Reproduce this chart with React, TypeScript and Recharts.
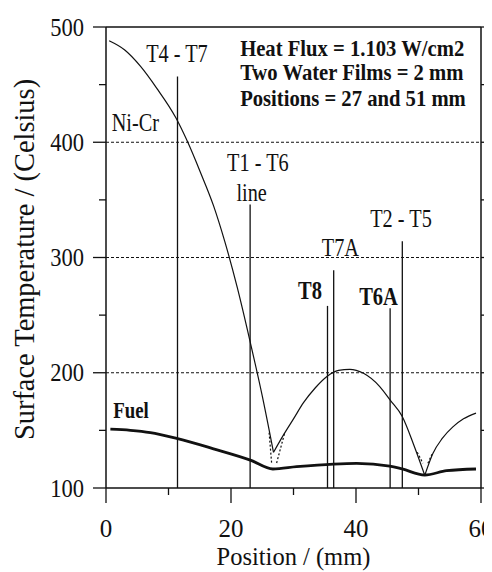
import React from 'react';
import { ComposedChart, Line, XAxis, YAxis, ReferenceLine, ReferenceDot } from 'recharts';

// ---------- data (Position mm, Temperature °C) ----------
const niCrLeft: number[][] = [
  [0.5, 488], [3, 480], [5.5, 466], [8.1, 447], [11.2, 421], [13, 401], [15.1, 374],
  [17.2, 345], [19, 314], [21, 274], [23.1, 226], [25, 180], [26.8, 131],
];
const niCrMid: number[][] = [
  [26.8, 131], [28.5, 147], [30, 160], [31.6, 174], [33.5, 187], [35.4, 197], [37.2, 202],
  [39, 203], [41.2, 199.5], [43.8, 188], [45.5, 176], [47.4, 162], [49.2, 138], [51, 111],
];
const niCrRight: number[][] = [
  [51, 111], [52.3, 130], [53.8, 143], [55.5, 153], [57.2, 160], [59.2, 165],
];
const fuel: number[][] = [
  [0.7, 151], [3.9, 150], [7.1, 148], [11.3, 143], [17.2, 134], [23.2, 124], [26.7, 116.5],
  [30.5, 118.5], [36.4, 120.8], [40.1, 121.4], [45.4, 119], [47.4, 116.5], [51, 111.3],
  [54.5, 115], [59.2, 116.5],
];
const dottedStrokes: number[][][] = [
  [[26.1, 148], [26.5, 121.7]],
  [[27.3, 121.7], [28.6, 148]],
  [[49.8, 131], [50.7, 121.5]],
  [[51.5, 121.5], [52.3, 131]],
];
const probeNames = ['T4 - T7', 'T1 - T6', 'T8', 'T7A', 'T6A', 'T2 - T5'];
const probePositions = [11.44, 23.06, 35.44, 36.43, 45.46, 47.41];
const probeTops = [457, 346, 258, 289, 256, 314];

const xTicks = [0, 10, 20, 30, 40, 50, 60];
const yTicks = [100, 150, 200, 250, 300, 350, 400, 450, 500];
const gridValues = [200, 300, 400];

const infoLines = ['Heat Flux = 1.103 W/cm2', 'Two Water Films = 2 mm', 'Positions = 27 and 51 mm'];
const infoX = 21.46;
const infoY = [481.5, 460.3, 438.1];

type Note = { text: string; x: number; y: number; bold?: boolean };
const notes: Note[] = [
  { text: 'T4 - T7', x: 11.35, y: 477 },
  { text: 'Ni-Cr', x: 4.7, y: 417.6 },
  { text: 'T1 - T6', x: 24.3, y: 383 },
  { text: 'line', x: 23.3, y: 357 },
  { text: 'T7A', x: 37.5, y: 309.4 },
  { text: 'T2 - T5', x: 47.2, y: 334 },
  { text: 'T8', x: 32.65, y: 271.8, bold: true },
  { text: 'T6A', x: 43.6, y: 266, bold: true },
  { text: 'Fuel', x: 4.0, y: 167.7, bold: true },
];

// ---------- styling ----------
const FONT = '"Liberation Serif", "Times New Roman", serif';
const INK = '#111';

const toPts = (a: number[][]) => a.map(([x, y]) => ({ x, y }));

const XTick = (props: any) => {
  const { x, y, payload } = props;
  const v = payload.value;
  const major = v % 20 === 0;
  return (
    <g>
      <line x1={x} x2={x} y1={y} y2={y + (major ? 15 : 7)} stroke={INK} strokeWidth={1.3} />
      {major && (
        <text x={x} y={y + 49} textAnchor="middle" fontSize={25} fontFamily={FONT} fill={INK}>
          {v}
        </text>
      )}
    </g>
  );
};

const YTickLeft = (props: any) => {
  const { x, y, payload } = props;
  const v = payload.value;
  const major = v % 100 === 0;
  return (
    <g>
      <line x1={x - (major ? 13 : 7)} x2={x} y1={y} y2={y} stroke={INK} strokeWidth={1.3} />
      {major && (
        <text
          transform={`translate(${x - 22},${y + 8.5}) scale(0.9,1)`}
          textAnchor="end"
          fontSize={25}
          fontFamily={FONT}
          fill={INK}
        >
          {v}
        </text>
      )}
    </g>
  );
};

const YTickRight = (props: any) => {
  const { x, y, payload } = props;
  const v = payload.value;
  const major = v % 100 === 0;
  return <line x1={x} x2={x + (major ? 8 : 5)} y1={y} y2={y} stroke={INK} strokeWidth={1.3} />;
};

const noteLabel = (text: string, bold: boolean, anchor: 'middle' | 'start', size: number, sx: number) =>
  (props: any) => {
    const vb = props.viewBox || {};
    const cx = (vb.x ?? 0) + (vb.width ?? 0) / 2;
    const cy = (vb.y ?? 0) + (vb.height ?? 0) / 2;
    return (
      <text
        transform={`translate(${cx},${cy + size * 0.34}) scale(${sx},1)`}
        textAnchor={anchor}
        fontSize={size}
        fontWeight={bold ? 700 : 400}
        fontFamily={FONT}
        fill={INK}
      >
        {text}
      </text>
    );
  };

const yTitle = (props: any) => {
  const vb = props.viewBox || {};
  const cx = (vb.x ?? 0) + 26;
  const cy = (vb.y ?? 0) + (vb.height ?? 0) / 2 + 2;
  return (
    <text
      transform={`translate(${cx},${cy}) rotate(-90) scale(0.98,1)`}
      textAnchor="middle"
      fontSize={29}
      fontFamily={FONT}
      fill={INK}
    >
      Surface Temperature / (Celsius)
    </text>
  );
};

const xTitle = (props: any) => {
  const vb = props.viewBox || {};
  const cx = (vb.x ?? 0) + (vb.width ?? 0) / 2;
  const cy = (vb.y ?? 0) + 77;
  return (
    <text x={cx} y={cy} textAnchor="middle" fontSize={24.5} fontFamily={FONT} fill={INK}>
      Position / (mm)
    </text>
  );
};

export default function App() {
  return (
    <ComposedChart width={484} height={564} margin={{ top: 19, right: 0, bottom: 0, left: 0 }}>
      <XAxis
        dataKey="x"
        type="number"
        domain={[0, 60]}
        ticks={xTicks}
        interval={0}
        height={84}
        tickSize={0}
        tickMargin={0}
        tickLine={false}
        axisLine={{ stroke: INK, strokeWidth: 1.5 }}
        tick={(p: any) => <XTick {...p} />}
        label={{ content: xTitle }}
        allowDataOverflow
      />
      <YAxis
        type="number"
        domain={[100, 500]}
        ticks={yTicks}
        interval={0}
        width={98}
        tickSize={0}
        tickMargin={0}
        tickLine={false}
        axisLine={{ stroke: INK, strokeWidth: 1.5 }}
        tick={(p: any) => <YTickLeft {...p} />}
        label={{ content: yTitle }}
        allowDataOverflow
      />
      <YAxis
        yAxisId="right"
        orientation="right"
        type="number"
        domain={[100, 500]}
        ticks={yTicks}
        interval={0}
        width={11}
        tickSize={0}
        tickMargin={0}
        tickLine={false}
        axisLine={{ stroke: INK, strokeWidth: 1.5 }}
        tick={(p: any) => <YTickRight {...p} />}
        allowDataOverflow
      />

      {gridValues.map((g) => (
        <ReferenceLine key={`g${g}`} y={g} stroke={INK} strokeWidth={1} strokeDasharray="3 2" />
      ))}
      <ReferenceLine y={500} stroke={INK} strokeWidth={1.5} />

      {probePositions.map((px, i) => (
        <ReferenceLine
          key={probeNames[i]}
          segment={[{ x: px, y: 100 }, { x: px, y: probeTops[i] }]}
          stroke={INK}
          strokeWidth={1.3}
        />
      ))}

      <Line data={toPts(niCrLeft)} dataKey="y" type="monotone" dot={false} stroke={INK} strokeWidth={1.2} isAnimationActive={false} />
      <Line data={toPts(niCrMid)} dataKey="y" type="monotone" dot={false} stroke={INK} strokeWidth={1.2} isAnimationActive={false} />
      <Line data={toPts(niCrRight)} dataKey="y" type="monotone" dot={false} stroke={INK} strokeWidth={1.2} isAnimationActive={false} />
      {dottedStrokes.map((s, i) => (
        <Line key={`d${i}`} data={toPts(s)} dataKey="y" type="linear" dot={false} stroke={INK} strokeWidth={1.2} strokeDasharray="2 2" isAnimationActive={false} />
      ))}
      <Line data={toPts(fuel)} dataKey="y" type="monotone" dot={false} stroke={INK} strokeWidth={2.8} isAnimationActive={false} />

      {notes.map((n) => (
        <ReferenceDot
          key={n.text}
          x={n.x}
          y={n.y}
          r={0}
          fill="none"
          stroke="none"
          label={noteLabel(n.text, !!n.bold, 'middle', n.bold ? (n.text === 'Fuel' ? 23 : 25) : 26, n.bold ? 0.82 : 0.78)}
        />
      ))}
      {infoLines.map((t, i) => (
        <ReferenceDot
          key={t}
          x={infoX}
          y={infoY[i]}
          r={0}
          fill="none"
          stroke="none"
          label={noteLabel(t, true, 'start', 22.7, 0.91)}
        />
      ))}
    </ComposedChart>
  );
}
